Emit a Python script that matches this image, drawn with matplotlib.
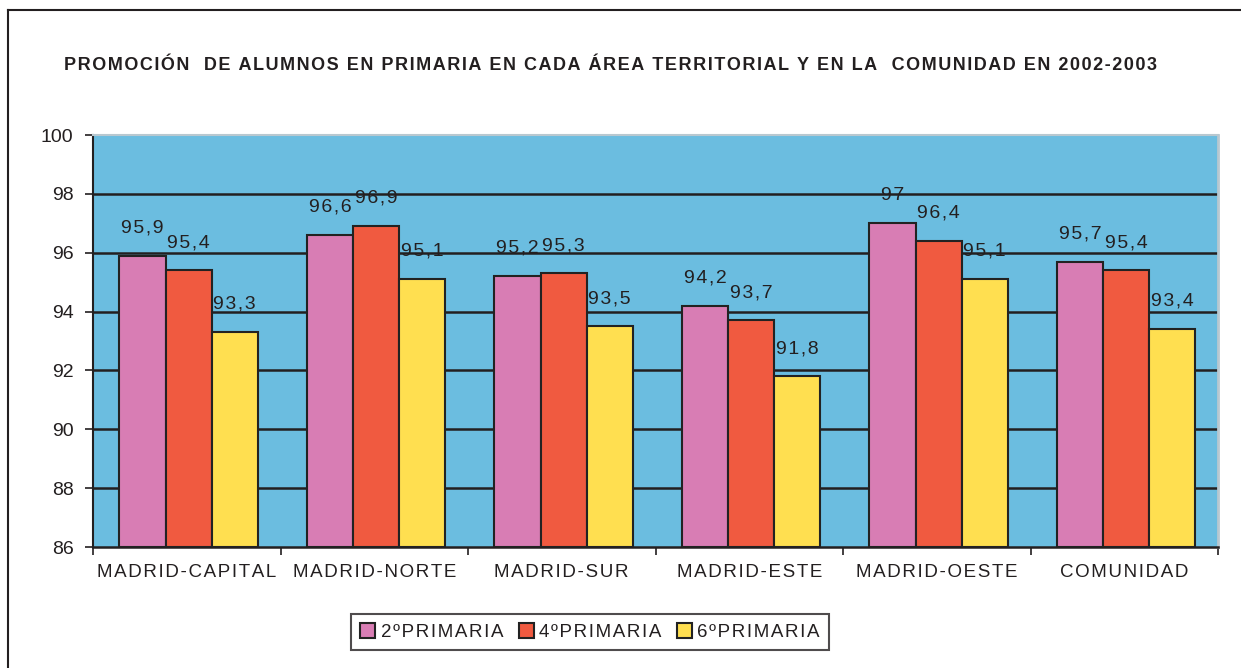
import matplotlib
matplotlib.use('Agg')
import matplotlib.pyplot as plt
import numpy as np
from matplotlib.lines import Line2D

plt.rcParams['font.family'] = ['Liberation Sans', 'DejaVu Sans']

areas = ['MADRID-CAPITAL', 'MADRID-NORTE', 'MADRID-SUR', 'MADRID-ESTE', 'MADRID-OESTE', 'COMUNIDAD']
series = ['2ºPRIMARIA', '4ºPRIMARIA', '6ºPRIMARIA']
prim2 = [95.9, 96.6, 95.2, 94.2, 97.0, 95.7]
prim4 = [95.4, 96.9, 95.3, 93.7, 96.4, 95.4]
prim6 = [93.3, 95.1, 93.5, 91.8, 95.1, 93.4]
colors = ['#d87db4', '#f05a40', '#ffdf50']

title = 'PROMOCIÓN  DE ALUMNOS EN PRIMARIA EN CADA ÁREA TERRITORIAL Y EN LA  COMUNIDAD EN 2002-2003'


def spaced(s, sep='\u200a'):
    return sep.join(list(s))


def fmt(v):
    s = ('%.1f' % v).replace('.', ',')
    if s.endswith(',0'):
        s = s[:-2]
    return spaced(s)


fig = plt.figure(figsize=(12.41, 6.68), dpi=100)
ax = fig.add_axes([93 / 1241, 1 - 547 / 668, (1218 - 93) / 1241, (547 - 135) / 668])
ax.set_facecolor('#6bbde0')

x = np.arange(len(areas)) + 0.5
w = 0.246
for k, vals in enumerate([prim2, prim4, prim6]):
    pos = x + (k - 1) * w + 0.01
    ax.bar(pos, np.array(vals) - 86, bottom=86, width=w, color=colors[k],
           edgecolor='#222222', linewidth=1.5, label=spaced(series[k]), zorder=3)
    for px, v in zip(pos, vals):
        ax.annotate(fmt(v), (px, v), xytext=(0, 20), textcoords='offset points',
                    ha='center', va='center', fontsize=14, color='#231f20')

ax.set_xlim(0, 6)
ax.set_ylim(86, 100)
ax.set_yticks(np.arange(86, 101, 2))
for yv in np.arange(88, 99, 2):
    ax.axhline(yv, color='#231f20', linewidth=1.8, zorder=1)
ax.tick_params(axis='y', direction='out', length=6, width=1.2, labelsize=14, pad=8, colors='#231f20')
ax.set_xticks(x)
ax.set_xticklabels([spaced(a) for a in areas], fontsize=13.5, color='#231f20')
ax.tick_params(axis='x', length=0, pad=12)
ax.set_xticks(np.arange(0, 7), minor=True)
ax.tick_params(axis='x', which='minor', direction='out', length=6, width=1.2, colors='#231f20')

ax.spines['left'].set_color('#231f20')
ax.spines['left'].set_linewidth(1.5)
ax.spines['bottom'].set_color('#231f20')
ax.spines['bottom'].set_linewidth(1.8)
ax.spines['top'].set_color('#b8c8d0')
ax.spines['right'].set_color('#b8c8d0')
ax.spines['top'].set_linewidth(1.5)
ax.spines['right'].set_linewidth(2)

fig.text(64 / 1241, 1 - 66 / 668, spaced(title), fontsize=13, fontweight='bold',
         ha='left', va='center', color='#231f20')

leg = fig.legend(loc='center', bbox_to_anchor=(590 / 1241, 1 - 632 / 668), ncol=3,
                 fontsize=13.5, frameon=True, fancybox=False, handlelength=0.8,
                 handleheight=0.8, handletextpad=0.3, columnspacing=0.8, borderpad=0.5)
leg.get_frame().set_edgecolor('#231f20')
leg.get_frame().set_linewidth(1.5)
for t in leg.get_texts():
    t.set_color('#231f20')

# outer frame, only top and left edges visible
fig.add_artist(Line2D([8 / 1241, 8 / 1241], [0, 1 - 10 / 668], transform=fig.transFigure,
                      color='#231f20', linewidth=1.5))
fig.add_artist(Line2D([8 / 1241, 1], [1 - 10 / 668, 1 - 10 / 668], transform=fig.transFigure,
                      color='#231f20', linewidth=1.5))

fig.savefig('out.png', dpi=100)
